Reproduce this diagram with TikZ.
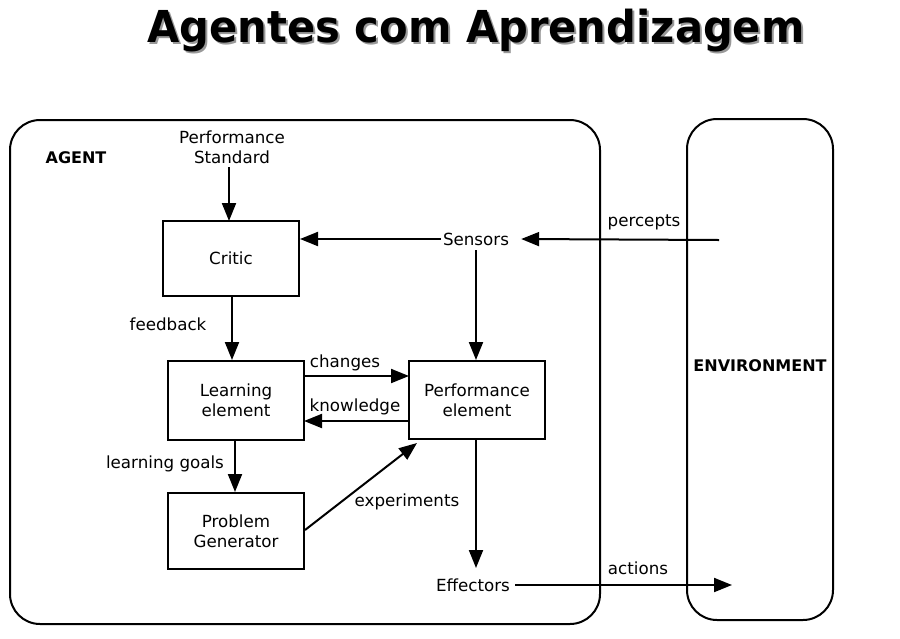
\documentclass[tikz,border=0pt]{standalone}
\usepackage{fontspec}
\setmainfont{DejaVu Sans}
\usetikzlibrary{arrows.meta}
\begin{document}
\begin{tikzpicture}[x=1pt,y=-1pt,
  every node/.style={font=\fontsize{16.7}{20}\selectfont, inner sep=0pt},
  box/.style={draw, line width=2pt, minimum width=136pt, align=center},
  frame/.style={draw, line width=2pt, rounded corners=30pt},
  arr/.style={line width=2pt, -{Triangle[length=18pt,width=14pt]}},
  bold/.style={font=\fontsize{16}{20}\bfseries\selectfont},
  titlef/.style={font=\fontsize{44}{48}\bfseries\selectfont}]
\useasboundingbox (0,0) rectangle (900,638);
% title
\node[titlef, text=black!40] (tsh) at (478,33) {\scalebox{0.947}[1]{Agentes com Aprendizagem}};
\node[titlef] (title) at (476,31) {\scalebox{0.947}[1]{Agentes com Aprendizagem}};
% frames
\draw[frame] (10,120) rectangle (600,624);
\draw[frame] (687,119) rectangle (833,620);
\node[bold] (agent) at (76,158) {AGENT};
\node[bold] (env) at (760,366) {ENVIRONMENT};
% boxes
\node[box, minimum height=75pt] (critic) at (231,258.5) {Critic};
\node[box, minimum height=79pt] (learn) at (236,400.5) {Learning\\element};
\node[box, minimum height=78pt] (perf) at (477,400) {Performance\\element};
\node[box, minimum height=76pt] (prob) at (236,531) {Problem\\Generator};
% texts
\node[align=center] (std) at (232,147) {Performance\\Standard};
\node[inner xsep=2pt] (sens) at (476,239) {Sensors};
\node[inner xsep=5pt] (eff) at (473,585) {Effectors};
\coordinate (pin) at (719,240);
\coordinate (aout) at (732,585);
% connectors
\draw[arr] (229,167) -- (229,221);
\draw[arr] (sens.west) -- (critic.east |- sens.west);
\draw[arr] (pin) -- ([xshift=10pt]sens.east);
\node (percepts) at (644,222) {percepts};
\draw[arr] (476,250) -- (perf.north -| 476,0);
\draw[arr] (232,296) -- (learn.north -| 232,0);
\node (feedback) at (168,324) {feedback};
\draw[arr] (304,376) -- (409,376);
\node (changes) at (345,363) {changes};
\draw[arr] (409,421) -- (304,421);
\node (knowledge) at (355,407) {knowledge};
\draw[arr] (235,440) -- (235,492);
\node (goals) at (165,464) {learning goals};
\draw[arr] (prob.east |- 0,530) -- (417,443);
\node (exp) at (407,502) {experiments};
\draw[arr] (476,439) -- (476,568);
\draw[arr] (eff.east) -- (aout);
\node (actions) at (638,568) {actions};
\end{tikzpicture}
\end{document}
